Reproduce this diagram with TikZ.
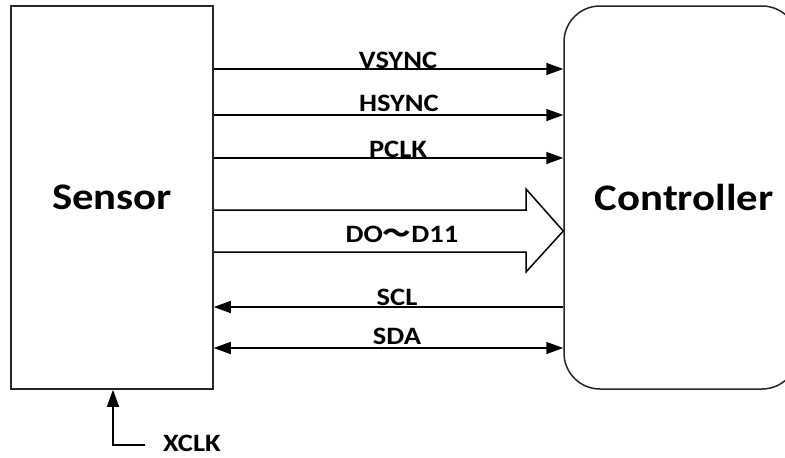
\documentclass[tikz,border=0pt]{standalone}
\usepackage{fontspec}
\setmainfont{Carlito}
\newfontfamily\lblfont[FakeStretch=1.14]{Carlito}
\newfontfamily\cjk[FakeStretch=1.14]{Noto Sans CJK SC}
\usetikzlibrary{arrows.meta}
\tikzset{
  box/.style={draw=black!85, line width=1.5pt, inner sep=0pt},
  sig/.style={line width=1.5pt, -{Triangle[length=17pt,width=12pt]}},
  lbl/.style={font=\lblfont\fontsize{25}{29}\selectfont\bfseries, anchor=base, inner sep=0pt},
  big/.style={font=\lblfont\fontsize{37.5}{42}\selectfont\bfseries}
}
\begin{document}
\begin{tikzpicture}[x=1pt,y=-1pt]
\clip (0,0) rectangle (785,458);
\fill[white] (0,0) rectangle (785,458);
\node[box, minimum width=202pt, minimum height=383pt, big] (S) at (112,197.5) {Sensor};
\node[box, rounded corners=36pt, minimum width=234pt, minimum height=383pt] (C) at (681,197.5) {};
\node[big] (Ct) at (684,197.5) {Controller};
% signals
\draw[sig] (S.east |- 0,69) -- (C.west |- 0,69);
\draw[sig] (S.east |- 0,115) -- (C.west |- 0,115);
\draw[sig] (S.east |- 0,158) -- (C.west |- 0,158);
\draw[sig] (C.west |- 0,307) -- (S.east |- 0,307);
\draw[sig, {Triangle[length=17pt,width=12pt]}-{Triangle[length=17pt,width=12pt]}] (S.east |- 0,348) -- (C.west |- 0,348);
\node[lbl] (l1) at (398,68) {VSYNC};
\node[lbl] (l2) at (399,111) {HSYNC};
\node[lbl] (l3) at (398,157) {PCLK};
\node[lbl] (l4) at (397,305) {SCL};
\node[lbl] (l5) at (397,344) {SDA};
% bus arrow
\draw[line width=1.5pt, line join=miter] (S.east |- 0,210) -- (526,210) -- (526,189) -- (C.west |- 0,231) -- (526,272) -- (526,252) -- (S.east |- 0,252);
\node[lbl] (l6) at (402,242) {DO{\cjk\bfseries ～}D11};
% XCLK
\coordinate (xe) at (145,445);
\draw[sig] (xe) -- (113,445) -- (S.south -| 113,0);
\node[lbl, anchor=base west] (l7) at (163,451) {XCLK};
\end{tikzpicture}
\end{document}
